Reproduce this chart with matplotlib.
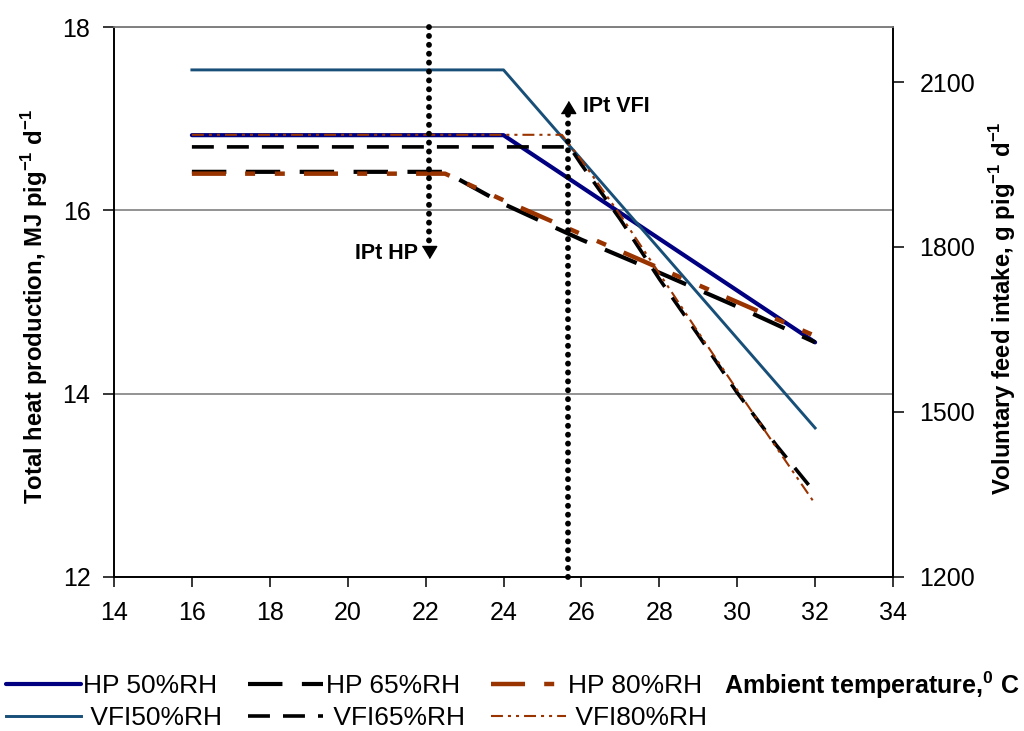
import matplotlib
matplotlib.use("Agg")
import matplotlib.pyplot as plt

plt.rcParams['font.family'] = ['Liberation Sans', 'DejaVu Sans']
plt.rcParams['mathtext.fontset'] = 'custom'
plt.rcParams['mathtext.rm'] = 'Liberation Sans'
plt.rcParams['mathtext.bf'] = 'Liberation Sans:bold'
plt.rcParams['lines.scale_dashes'] = False

# Heat production (MJ pig-1 d-1) vs ambient temperature
temp_hp50 = [16, 24, 32]
hp50 = [16.82, 16.82, 14.56]
temp_hp = [16, 22.5, 24, 26, 28, 30, 32]
hp65 = [16.42, 16.42, 16.07, 15.68, 15.32, 14.95, 14.56]
hp80 = [16.40, 16.40, 16.11, 15.74, 15.37, 15.00, 14.63]

# Voluntary feed intake (g pig-1 d-1) vs ambient temperature
temp_vfi50 = [16, 24, 32]
vfi50 = [2122, 2122, 1471]
temp_vfi65 = [16, 25.7, 26, 27, 28, 29, 30, 31, 32]
vfi65 = [1982, 1982, 1950, 1850, 1742, 1640, 1535, 1440, 1353]
temp_vfi80 = [16, 25.5, 26, 27, 28, 29, 30, 31, 32]
vfi80 = [2004, 2004, 1958, 1858, 1752, 1645, 1540, 1436, 1333]

# Inflection points
ipt_hp_temp, ipt_hp_level = 22.1, 15.48
ipt_vfi_temp, ipt_vfi_level = 25.65, 17.19

x_ticks = [14, 16, 18, 20, 22, 24, 26, 28, 30, 32, 34]
hp_ticks = [12, 14, 16, 18]
vfi_ticks = [1200, 1500, 1800, 2100]

navy = '#000080'
steel = '#174f78'
brown = '#993300'

fig = plt.figure(figsize=(10.24, 7.31), dpi=100)
ax = fig.add_axes([114 / 1024, 1 - 577 / 731, 779 / 1024, 550 / 731])
ax2 = ax.twinx()
ax.patch.set_visible(False)

ax.set_xlim(14, 34)
ax.set_ylim(12, 18)
ax2.set_ylim(1200, 2200)
ax.set_xticks(x_ticks)
ax.set_yticks(hp_ticks)
ax2.set_yticks(vfi_ticks)

ax.yaxis.grid(True, color='#808080', lw=1.2)
ax.set_axisbelow(True)
for a in (ax, ax2):
    for s in a.spines.values():
        s.set_linewidth(1.2)
        s.set_color('black')
    a.spines['top'].set_color('#808080')
ax.tick_params(axis='both', direction='out', labelsize=18, width=1.1)
ax.tick_params(axis='y', length=8, pad=9)
ax.tick_params(axis='x', length=7, pad=10)
ax2.tick_params(axis='y', direction='out', length=8, pad=11, labelsize=18, width=1.1)

# Heat production lines
l_hp50, = ax.plot(temp_hp50, hp50, color=navy, lw=3.0, solid_capstyle='round',
                  label='HP 50%RH')
l_hp65, = ax.plot(temp_hp, hp65, color='black', lw=3.0, dashes=(24.8, 14.0),
                  dash_capstyle='butt', label='HP 65%RH')
l_hp80, = ax.plot(temp_hp, hp80, color=brown, lw=3.2,
                  dashes=(24.5, 13.8, 7.2, 14.2, 7.2, 13.8),
                  dash_capstyle='butt', label='HP 80%RH')

# Feed intake lines
l_vfi50, = ax2.plot(temp_vfi50, vfi50, color=steel, lw=2.1, label=' VFI50%RH')
l_vfi65, = ax2.plot(temp_vfi65, vfi65, color='black', lw=2.6, dashes=(15.8, 9.4),
                    dash_capstyle='butt', label=' VFI65%RH')
l_vfi80, = ax2.plot(temp_vfi80, vfi80, color=brown, lw=1.5,
                    dashes=(8.6, 3.6, 2.2, 3.6, 2.2, 3.6),
                    dash_capstyle='butt', label=' VFI80%RH')

# Inflection point markers (dotted arrows)
tr = ax.transData
down_head = [(-0.6, 1), (0.6, 1), (0, 0)]
up_head = [(-0.6, -1), (0.6, -1), (0, 0)]
dot_style = dict(color='black', lw=4.2, dashes=(0.1, 6.3), dash_capstyle='round',
                 clip_on=False, zorder=5)
ax2.plot([ipt_hp_temp, ipt_hp_temp], [18, ipt_hp_level + 0.14], transform=tr,
         **dot_style)
ax2.plot([ipt_hp_temp], [ipt_hp_level], transform=tr, marker=down_head,
         markersize=17.3, color='black', linestyle='none', zorder=6)
ax2.plot([ipt_vfi_temp, ipt_vfi_temp], [12, ipt_vfi_level - 0.14], transform=tr,
         **dot_style)
ax2.plot([ipt_vfi_temp], [ipt_vfi_level], transform=tr, marker=up_head,
         markersize=17.3, color='black', linestyle='none', zorder=6)
ax2.text(21.8, 15.53, 'IPt HP', transform=tr, ha='right', va='center',
         fontsize=15.5, fontweight='bold')
ax2.text(26.05, 17.13, 'IPt VFI', transform=tr, ha='left', va='center',
         fontsize=15.5, fontweight='bold')

# Axis titles
fig.text(35 / 1024, 1 - 307 / 731,
         r'Total heat production, MJ pig$^{\mathbf{-1}}$ d$^{\mathbf{-1}}$',
         rotation=90, ha='center', va='center', fontsize=17.2, fontweight='bold')
fig.text(1003 / 1024, 1 - 308 / 731,
         r'Voluntary feed intake, g pig$^{\mathbf{-1}}$ d$^{\mathbf{-1}}$',
         rotation=90, ha='center', va='center', fontsize=17.2, fontweight='bold')
fig.text(724 / 1024, 1 - 685 / 731, r'Ambient temperature,$^{\mathbf{0}}$ C',
         ha='left', va='center', fontsize=18, fontweight='bold')

handles = [l_hp50, l_vfi50, l_hp65, l_vfi65, l_hp80, l_vfi80]
fig.legend(handles=handles, labels=[h.get_label() for h in handles], ncol=3,
           loc='upper left', bbox_to_anchor=(6 / 1024, 1 - 674 / 731),
           frameon=False, fontsize=19, handlelength=2.84, handletextpad=0.08,
           columnspacing=1.0, labelspacing=0.3, borderpad=0, borderaxespad=0)

fig.savefig('out.png', dpi=100)
